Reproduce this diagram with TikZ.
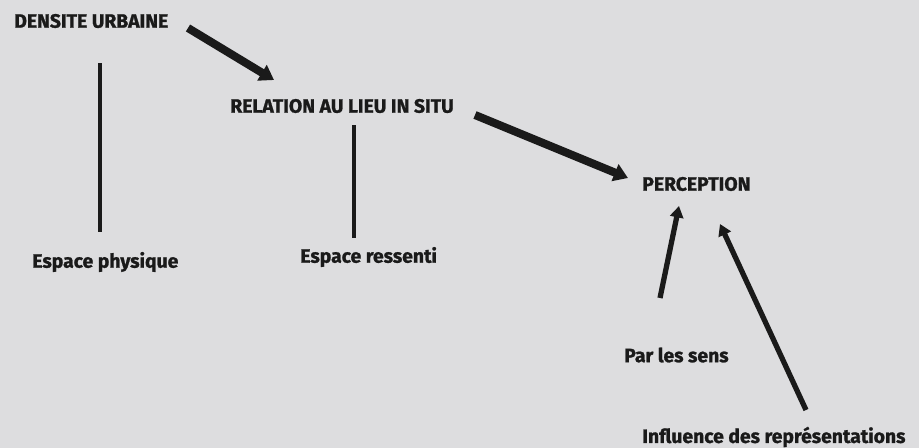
\documentclass[tikz,border=0pt]{standalone}
\usepackage{fontspec}
\setmainfont{Fira Sans}[BoldFeatures={FakeBold=1.2}]
\usetikzlibrary{arrows.meta}
\definecolor{bgray}{HTML}{DDDDDF}
\definecolor{ink}{HTML}{1A1A1A}

\begin{document}
\begin{tikzpicture}[x=0.2mm, y=-0.2mm, font=\bfseries\fontsize{11}{13}\selectfont, text=ink,
  lbl/.style={anchor=west, inner sep=0pt},
  bigarr/.style={draw=ink, line width=4.6pt, -{Triangle[length=8pt, width=10pt]}},
  smallarr/.style={draw=ink, line width=3pt, -{Triangle[length=6.5pt, width=7.5pt]}},
  link/.style={draw=ink, line width=1.8pt}]
\fill[bgray] (0,0) rectangle (919,448);
\useasboundingbox (0,0) rectangle (919,448);
% labels
\node[lbl] (du) at (14,21) {DENSITE URBAINE};
\node[lbl] (rel) at (230,106) {RELATION AU LIEU IN SITU};
\node[lbl] (perc) at (642,184) {PERCEPTION};
\node[lbl] (phys) at (32,262) {Espace physique};
\node[lbl] (ress) at (300,257) {Espace ressenti};
\node[lbl] (sens) at (624,355) {Par les sens};
\node[lbl] (repr) at (642,437) {Influence des représentations};
% connector ends
\coordinate (a1s) at (188,28);  \coordinate (a1e) at (274,80);
\coordinate (a2s) at (475,115); \coordinate (a2e) at (628,178);
\coordinate (a3s) at (660,298); \coordinate (a3e) at (679,206);
\coordinate (a4s) at (806,410); \coordinate (a4e) at (720,224);
\coordinate (l1s) at (100,63);  \coordinate (l1e) at (100,232);
\coordinate (l2s) at (354,125); \coordinate (l2e) at (354,238);
\draw[bigarr] (a1s) -- (a1e);
\draw[bigarr] (a2s) -- (a2e);
\draw[smallarr] (a3s) -- (a3e);
\draw[smallarr] (a4s) -- (a4e);
\draw[link] (l1s) -- (l1e);
\draw[link] (l2s) -- (l2e);
\end{tikzpicture}
\end{document}
